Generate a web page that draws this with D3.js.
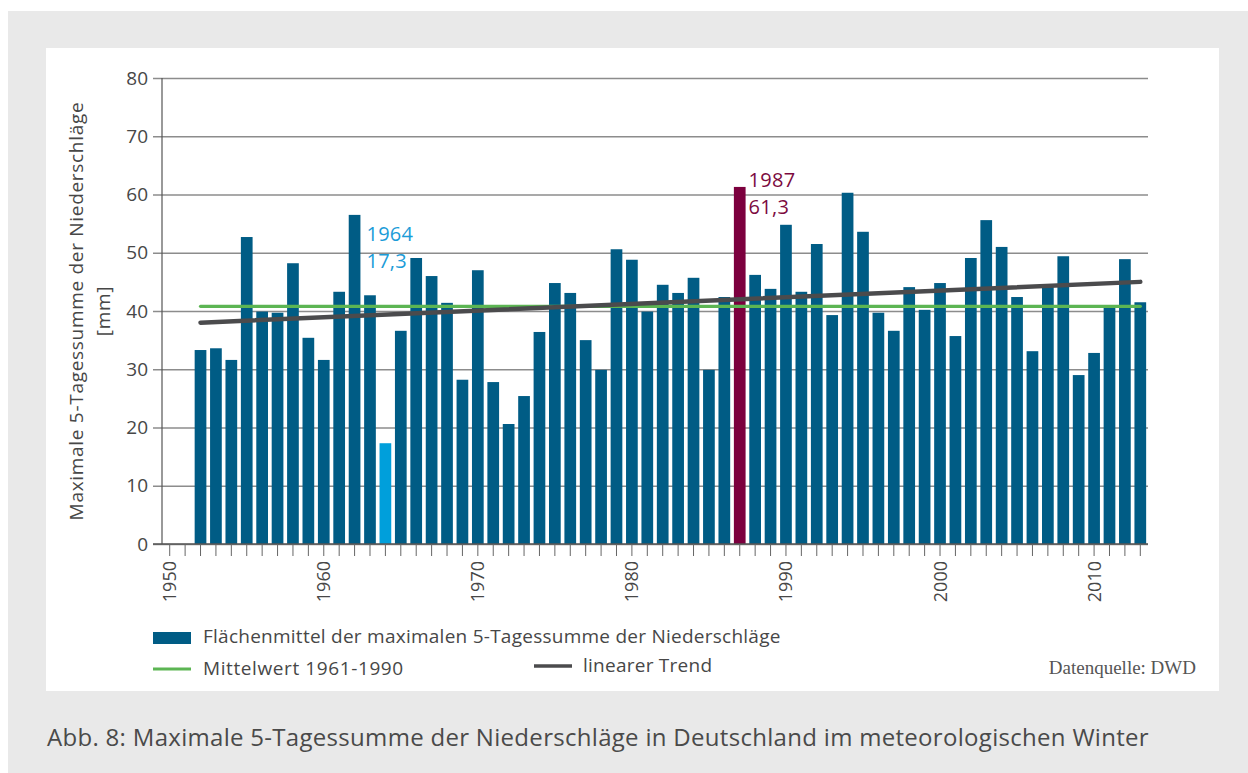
<!DOCTYPE html>
<html>
<head>
<meta charset="utf-8">
<script src="https://cdn.jsdelivr.net/npm/d3@7"></script>
<style>
  body { margin: 0; background: #fff; }
  text { font-family: "Open Sans", "Noto Sans", sans-serif; fill: #474747; }
</style>
</head>
<body>
<svg id="chart" width="1248" height="773"></svg>
<script>
// years with a bar (1950/51 stay empty on the axis)
const years = d3.range(1952, 2014);
const values = [
  33.3, 33.6, 31.6, 52.7, 39.9, 39.7, 48.2, 35.4, 31.6, 43.3,
  56.5, 42.7, 17.3, 36.6, 49.1, 46.0, 41.4, 28.2, 47.0, 27.8,
  20.6, 25.4, 36.4, 44.8, 43.1, 35.0, 29.9, 50.6, 48.8, 39.9,
  44.5, 43.1, 45.7, 29.9, 42.4, 61.3, 46.2, 43.8, 54.8, 43.3,
  51.5, 39.3, 60.3, 53.6, 39.7, 36.6, 44.1, 40.2, 44.8, 35.7,
  49.1, 55.6, 51.0, 42.4, 33.1, 44.1, 49.4, 29.0, 32.8, 40.7,
  48.9, 41.5
];
const axisYears = d3.range(1950, 2014);
const labelYears = [1950, 1960, 1970, 1980, 1990, 2000, 2010];
const yTicks = [0, 10, 20, 30, 40, 50, 60, 70, 80];
const meanValue = 40.8;            // Mittelwert 1961-1990
const trendYears = [1952, 2013];
const trendValues = [38.0, 45.0];  // linearer Trend
const highlights = [
  {year: 1964, label: "1964", value: "17,3", color: "#009fdb", text: "#1b9cd8"},
  {year: 1987, label: "1987", value: "61,3", color: "#7c003e", text: "#7c0a40"}
];
const legendItems = [
  "Flächenmittel der maximalen 5-Tagessumme der Niederschläge",
  "Mittelwert 1961-1990",
  "linearer Trend"
];

const svg = d3.select("#chart");

// background panels
svg.append("rect").attr("x", 8).attr("y", 11).attr("width", 1240).attr("height", 762).attr("fill", "#e9e9e9");
svg.append("rect").attr("x", 46).attr("y", 48).attr("width", 1173).attr("height", 643).attr("fill", "#fff");

const x = d3.scaleBand()
    .domain(axisYears)
    .range([162, 1148])
    .paddingInner(0.24)
    .paddingOuter(0.12);
const y = d3.scaleLinear().domain([0, 80]).range([544, 78]);
const cx = d => x(d) + x.bandwidth() / 2;

// gridlines + y labels
const yAxis = d3.axisLeft(y)
    .tickValues(yTicks)
    .tickSize(-(1148 - 153))
    .tickPadding(5)
    .tickFormat(d => d);
const gy = svg.append("g")
    .attr("transform", "translate(153,0)")
    .call(yAxis);
gy.select(".domain").remove();
gy.selectAll(".tick line").attr("stroke", "#8c8c8c").attr("stroke-width", 1.5);
gy.selectAll(".tick text")
    .attr("font-size", 19)
    .style("fill", "#474747")
    .style("font-family", "'Open Sans', sans-serif");

// y axis line
svg.append("line")
    .attr("x1", 162).attr("x2", 162)
    .attr("y1", y(80)).attr("y2", y(0))
    .attr("stroke", "#555").attr("stroke-width", 1.2);

// y title
const yt = svg.append("text")
    .attr("transform", "translate(76,311) rotate(-90)")
    .attr("text-anchor", "middle")
    .attr("font-size", 19)
    .attr("letter-spacing", 0.7);
yt.append("tspan").attr("x", 0).attr("dy", "0.35em").text("Maximale 5-Tagessumme der Niederschläge");
yt.append("tspan").attr("x", 0).attr("dy", 27).text("[mm]");

// bars
const hl = new Map(highlights.map(h => [h.year, h]));
svg.append("g").selectAll("rect")
    .data(years)
    .join("rect")
    .attr("x", d => x(d))
    .attr("width", x.bandwidth())
    .attr("y", (d, i) => y(values[i]))
    .attr("height", (d, i) => y(0) - y(values[i]))
    .attr("fill", d => hl.has(d) ? hl.get(d).color : "#005c85");

// baseline
svg.append("line")
    .attr("x1", 153).attr("x2", 1148)
    .attr("y1", y(0)).attr("y2", y(0))
    .attr("stroke", "#555").attr("stroke-width", 1.5);

// x ticks every year
const xAxis = d3.axisBottom(x)
    .tickSize(12)
    .tickFormat("");
const gx = svg.append("g")
    .attr("transform", `translate(0,${y(0)})`)
    .call(xAxis);
gx.select(".domain").remove();
gx.selectAll(".tick line").attr("stroke", "#666").attr("stroke-width", 1);

// decade labels
svg.append("g").selectAll("text")
    .data(labelYears)
    .join("text")
    .attr("transform", d => `translate(${cx(d)},561) rotate(-90)`)
    .attr("dy", "0.36em")
    .attr("text-anchor", "end")
    .attr("font-size", 18)
    .text(d => d);

// mean line
svg.append("line")
    .attr("x1", cx(1952)).attr("x2", cx(2013))
    .attr("y1", y(meanValue)).attr("y2", y(meanValue))
    .attr("stroke", "#5cb553").attr("stroke-width", 3.2)
    .attr("stroke-linecap", "round");

// trend line
svg.append("line")
    .attr("x1", cx(trendYears[0])).attr("x2", cx(trendYears[1]))
    .attr("y1", y(trendValues[0])).attr("y2", y(trendValues[1]))
    .attr("stroke", "#4b4b4d").attr("stroke-width", 4.5)
    .attr("stroke-linecap", "round");

// annotations: 1964 sits above the neighbouring bar, 1987 next to its top
highlights.forEach(h => {
  const v = values[years.indexOf(h.year)];
  let ax, ay;
  if (h.year === 1964) {
    ax = cx(h.year) - 19;
    ay = y(v) - 202;
  } else {
    ax = x(h.year) + x.bandwidth() + 3;
    ay = y(v);
  }
  const g = svg.append("g").attr("font-size", 20).attr("letter-spacing", 0.3);
  g.append("text").attr("x", ax).attr("y", ay).style("fill", h.text).text(h.label);
  g.append("text").attr("x", ax).attr("y", ay + 27).style("fill", h.text).text(h.value);
});

// legend
const lg = svg.append("g").attr("font-size", 19).attr("letter-spacing", 0.25);
lg.append("rect").attr("x", 153).attr("y", 632).attr("width", 38).attr("height", 12).attr("fill", "#005c85");
lg.append("text").attr("x", 203).attr("y", 643).text(legendItems[0]);
lg.append("line").attr("x1", 153).attr("x2", 191).attr("y1", 669).attr("y2", 669)
    .attr("stroke", "#5cb553").attr("stroke-width", 3.2);
lg.append("text").attr("x", 203).attr("y", 675).attr("letter-spacing", 0.6).text(legendItems[1]);
lg.append("line").attr("x1", 534).attr("x2", 572).attr("y1", 666).attr("y2", 666)
    .attr("stroke", "#4b4b4d").attr("stroke-width", 3.5);
lg.append("text").attr("x", 583).attr("y", 672).text(legendItems[2]);

// source
svg.append("text")
    .attr("x", 1196).attr("y", 674)
    .attr("text-anchor", "end")
    .attr("font-size", 19)
    .style("font-family", "'Liberation Serif', serif")
    .style("fill", "#555")
    .text("Datenquelle: DWD");

// caption
svg.append("text")
    .attr("x", 47).attr("y", 746)
    .attr("font-size", 24)
    .attr("letter-spacing", 0.3)
    .style("fill", "#4a4a4a")
    .text("Abb. 8: Maximale 5-Tagessumme der Niederschläge in Deutschland im meteorologischen Winter");
</script>
</body>
</html>
